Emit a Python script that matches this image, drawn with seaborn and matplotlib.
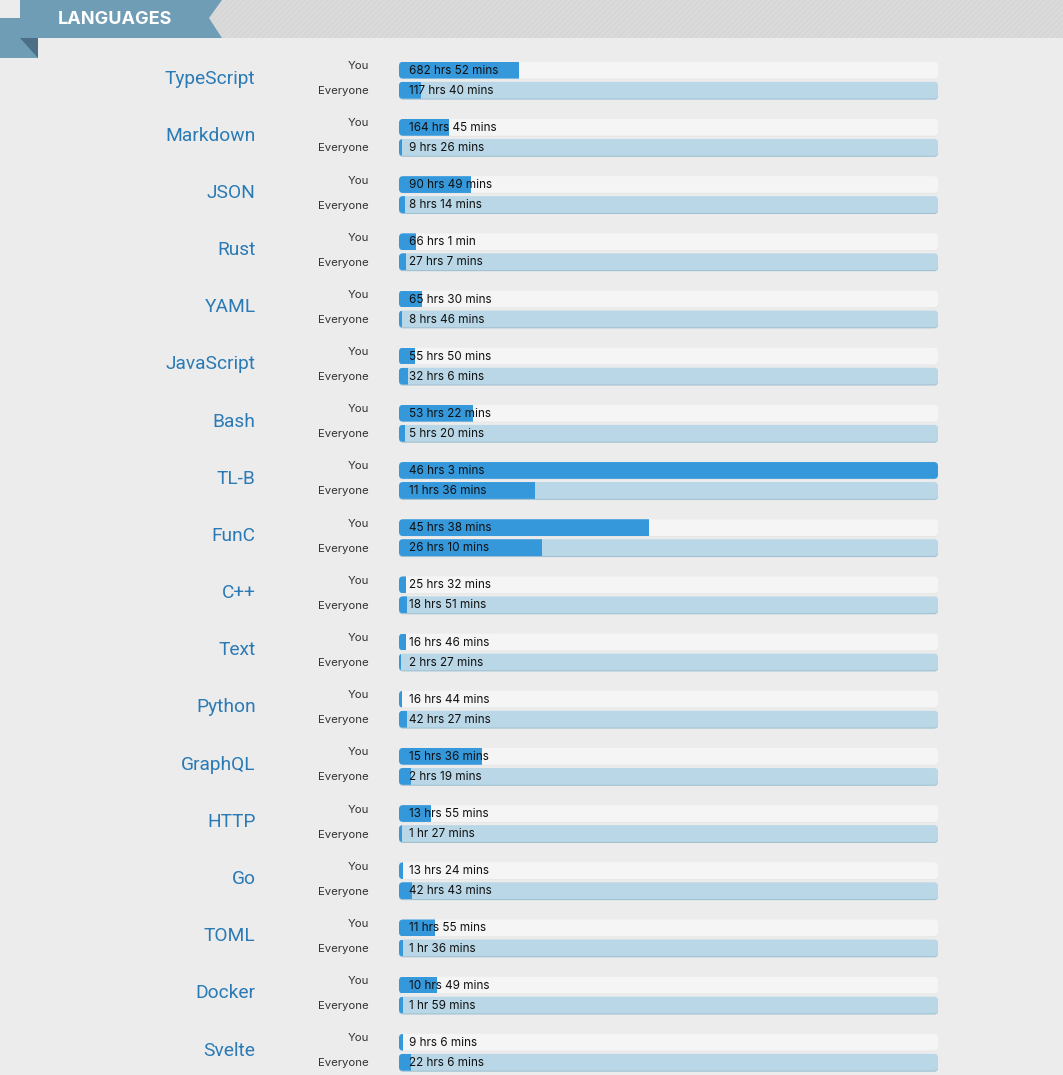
import numpy as np
import pandas as pd
import seaborn as sns
import matplotlib
matplotlib.use("Agg")
import matplotlib.pyplot as plt
from matplotlib.patches import FancyBboxPatch, Polygon, Rectangle

languages = ["TypeScript", "Markdown", "JSON", "Rust", "YAML", "JavaScript", "Bash", "TL-B", "FunC",
             "C++", "Text", "Python", "GraphQL", "HTTP", "Go", "TOML", "Docker", "Svelte"]
you_labels = ["682 hrs 52 mins", "164 hrs 45 mins", "90 hrs 49 mins", "66 hrs 1 min", "65 hrs 30 mins",
              "55 hrs 50 mins", "53 hrs 22 mins", "46 hrs 3 mins", "45 hrs 38 mins", "25 hrs 32 mins",
              "16 hrs 46 mins", "16 hrs 44 mins", "15 hrs 36 mins", "13 hrs 55 mins", "13 hrs 24 mins",
              "11 hrs 55 mins", "10 hrs 49 mins", "9 hrs 6 mins"]
everyone_labels = ["117 hrs 40 mins", "9 hrs 26 mins", "8 hrs 14 mins", "27 hrs 7 mins", "8 hrs 46 mins",
                   "32 hrs 6 mins", "5 hrs 20 mins", "11 hrs 36 mins", "26 hrs 10 mins", "18 hrs 51 mins",
                   "2 hrs 27 mins", "42 hrs 27 mins", "2 hrs 19 mins", "1 hr 27 mins", "42 hrs 43 mins",
                   "1 hr 36 mins", "1 hr 59 mins", "22 hrs 6 mins"]
# bar fill, percent of the track (as drawn in the picture)
you_pct = [22.3, 9.3, 13.4, 3.2, 4.3, 3.0, 13.7, 100, 46.4, 1.3, 1.3, 0.6, 15.4, 5.9, 0.7, 6.7, 7.0, 0.7]
everyone_pct = [4.1, 0.6, 1.1, 1.3, 0.6, 1.7, 1.1, 25.2, 26.5, 1.5, 0.3, 1.5, 2.2, 0.6, 2.4, 0.8, 0.8, 2.2]
track_pct = [100] * len(languages)
groups = ["You", "Everyone"]

BG = "#ececec"
W, H = 1063, 1075
sns.set_theme(style="white")
plt.rcParams["font.family"] = ["Inter", "DejaVu Sans"]
fig = plt.figure(figsize=(W / 100, H / 100), dpi=100, facecolor=BG)

# decorative header, in pixel coordinates
hd = fig.add_axes([0, 0, 1, 1])
hd.set_xlim(0, W); hd.set_ylim(H, 0); hd.set_axis_off()
plt.rcParams["hatch.linewidth"] = 0.5
hd.add_patch(Rectangle((200, 0), W - 200, 38, facecolor="#dadada", edgecolor="#d2d2d2", hatch="//////", lw=0))
hd.add_patch(Polygon([(20, 0), (222, 0), (209, 18), (222, 38), (38, 38), (38, 58), (0, 58), (0, 18), (20, 18)],
                     closed=True, facecolor="#6f9db5", edgecolor="none"))
hd.add_patch(Polygon([(20, 38), (38, 38), (38, 58)], closed=True, facecolor="#4c6f86", edgecolor="none"))
hd.text(58, 19, "LANGUAGES", color="white", fontsize=13, fontweight="bold", va="center", ha="left")

# bars
ax = fig.add_axes([399 / W, 0, 539 / W, 1])
ax.patch.set_alpha(0)
track_df = pd.DataFrame({
    "language": languages * 2,
    "group": ["You"] * len(languages) + ["Everyone"] * len(languages),
    "value": track_pct * 2,
})
fill_df = pd.DataFrame({
    "language": languages * 2,
    "group": ["You"] * len(languages) + ["Everyone"] * len(languages),
    "value": you_pct + everyone_pct,
})
sns.barplot(data=track_df, x="value", y="language", hue="group", hue_order=groups, orient="h",
            palette={"You": "#f5f5f5", "Everyone": "#b9d7e6"}, width=0.7, gap=0.16, errorbar=None,
            saturation=1, linewidth=0, legend=False, ax=ax, zorder=2)
n_track = len(ax.containers)
sns.barplot(data=fill_df, x="value", y="language", hue="group", hue_order=groups, orient="h",
            palette={"You": "#3498db", "Everyone": "#3498db"}, width=0.7, gap=0.16, errorbar=None,
            saturation=1, linewidth=0, legend=False, ax=ax, zorder=3)
ax.set_xlim(0, 100)
pitch = 57.18
top = 80.2
ax.set_ylim((H - top) / pitch, -top / pitch)
ax.set_axis_off()

px_x = 100 / 539
px_y = 1 / pitch
radius = 4 * px_x
aspect = px_y / px_x
edge_cols = {0: "#e6e6e6", 1: "#9dbfcf"}
for g in range(2):
    tracks = ax.containers[g]
    fills = ax.containers[n_track + g]
    for tr, fl in zip(tracks, fills):
        x, y, w, h = tr.get_x(), tr.get_y(), tr.get_width(), tr.get_height()
        tr.set_visible(False)
        def rounded(dy, color, z):
            p = FancyBboxPatch((x + radius, y + 4 * px_y + dy),
                               w - 2 * radius, h - 8 * px_y,
                               boxstyle=f"round,pad={radius},rounding_size={radius}",
                               mutation_aspect=aspect, facecolor=color, edgecolor="none", zorder=z)
            ax.add_patch(p)
            return p
        rounded(1 * px_y, edge_cols[g], 1.5)
        base = rounded(0, tr.get_facecolor(), 2)
        fl.set_clip_path(base)

for i, lang in enumerate(languages):
    ax.annotate(lang, xy=(0, i), xytext=(-143.5 * 0.72, 1.7 * 0.72), textcoords="offset points",
                ha="right", va="center", fontsize=13.8, color="#2a7ab5", annotation_clip=False,
                family=["Roboto", "DejaVu Sans"])
    row = [(you_labels[i], 0, "You"), (everyone_labels[i], 1, "Everyone")]
    for val, idx, name in row:
        bar = ax.containers[n_track + idx][i]
        yc = bar.get_y() + bar.get_height() / 2
        ax.annotate(val, xy=(0, yc), xytext=(10 * 0.72, -0.6 * 0.72), textcoords="offset points", ha="left",
                    va="center", fontsize=8.45, color="#111111", zorder=5, annotation_clip=False)
        off = 4 if idx == 0 else -1
        ax.annotate(name, xy=(0, yc), xytext=(-30 * 0.72, off * 0.72), textcoords="offset points",
                    ha="right", va="center", fontsize=8.2, color="#333333", annotation_clip=False)

fig.savefig("out.png", dpi=100, facecolor=BG)
